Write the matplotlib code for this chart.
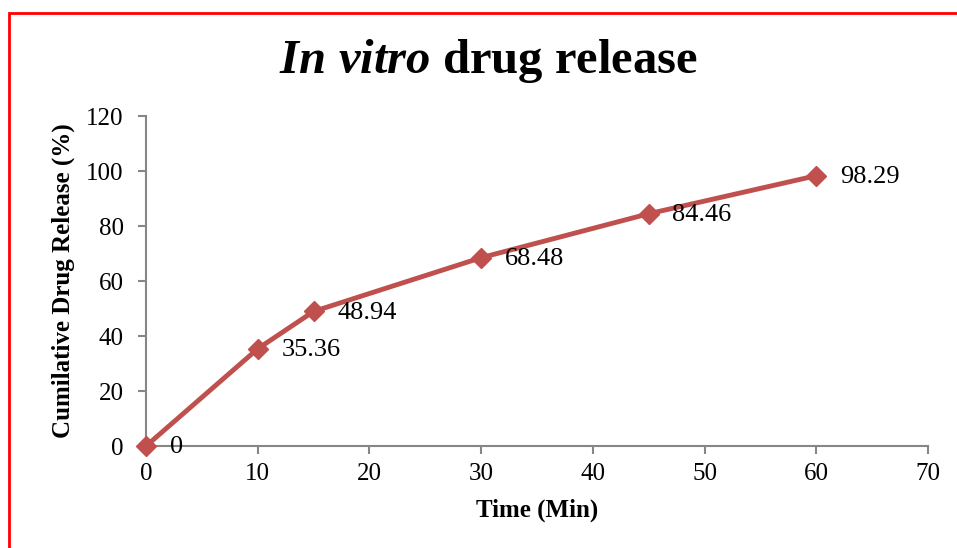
import matplotlib.pyplot as plt
from matplotlib.patches import Rectangle

time_min = [0, 10, 15, 30, 45, 60]
release = [0, 35.36, 48.94, 68.48, 84.46, 98.29]
labels = ["0", "35.36", "48.94", "68.48", "84.46", "98.29"]

plt.rcParams['font.family'] = 'Liberation Serif'
plt.rcParams['mathtext.fontset'] = 'custom'
plt.rcParams['mathtext.it'] = 'Liberation Serif:italic:bold'
plt.rcParams['mathtext.rm'] = 'Liberation Serif:bold'

fig = plt.figure(figsize=(9.57, 5.48), dpi=100)
ax = fig.add_axes([0.1526, 0.1861, 0.817, 0.6022])

ax.plot(time_min, release, color='#C0504D', lw=3.5, marker='D', ms=10, clip_on=False, zorder=3)
for x, y, t in zip(time_min, release, labels):
    ax.annotate(t, (x, y), xytext=(17, -1), textcoords='offset points',
                ha='left', va='center', fontsize=19)

ax.set_xlim(0, 70)
ax.set_ylim(0, 120)
ax.set_xticks(range(0, 71, 10))
ax.set_yticks(range(0, 121, 20))
for s in ['top', 'right']:
    ax.spines[s].set_visible(False)
for s in ['left', 'bottom']:
    ax.spines[s].set_color('#868686')
    ax.spines[s].set_linewidth(1.5)
ax.tick_params(direction='out', length=6, width=1.5, color='#868686', labelsize=18)
ax.tick_params(axis='y', pad=10)
ax.tick_params(axis='x', pad=6)

ax.set_xlabel("Time (Min)", fontsize=18, fontweight='bold', labelpad=10)
ax.set_ylabel("Cumilative Drug Release (%)", fontsize=18, fontweight='bold', labelpad=8)

fig.text(0.51, 0.888, r"$\mathit{In\ vitro}$ drug release", ha='center', va='center',
         fontsize=35, fontweight='bold')

# red frame (left and top edges)
fig.add_artist(Rectangle((0.0094, -0.05), 1.2, 1.026, transform=fig.transFigure,
                         fill=False, edgecolor='red', lw=2))

fig.savefig("out.png", dpi=100)
